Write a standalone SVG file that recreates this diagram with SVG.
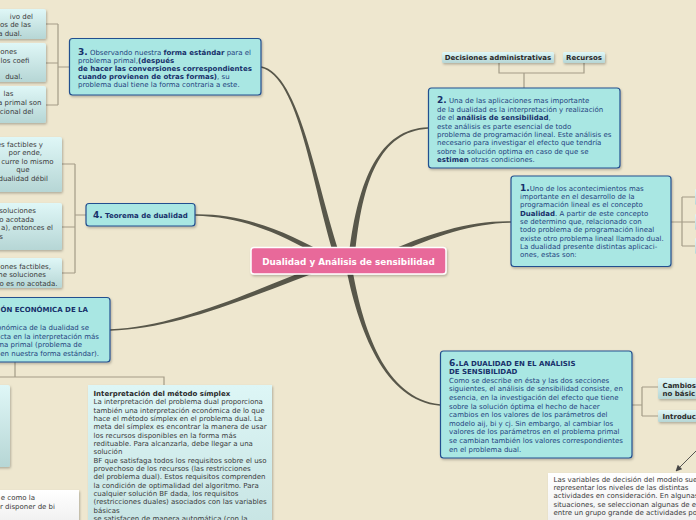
<svg xmlns="http://www.w3.org/2000/svg" width="696" height="520" viewBox="0 0 696 520">
<defs>
<linearGradient id="gc" x1="0" y1="0" x2="0" y2="1"><stop offset="0" stop-color="#DFF7F7"/><stop offset="1" stop-color="#B6D6D5"/></linearGradient>
<linearGradient id="gw" x1="0" y1="0" x2="0" y2="1"><stop offset="0" stop-color="#FFFFFF"/><stop offset="1" stop-color="#EDEDED"/></linearGradient>
<linearGradient id="gt" x1="0" y1="0" x2="0" y2="1"><stop offset="0" stop-color="#DDF6F6"/><stop offset="1" stop-color="#C6E3E2"/></linearGradient>
<filter id="sh" x="-10%" y="-10%" width="130%" height="140%"><feDropShadow dx="1" dy="1.5" stdDeviation="1" flood-color="#000" flood-opacity="0.25"/></filter>
<marker id="ah" viewBox="0 0 10 10" refX="9" refY="5" markerWidth="7" markerHeight="7" orient="auto"><path d="M0,0 L10,5 L0,10 z" fill="#444"/></marker>
</defs>
<style>
text{font-family:"DejaVu Sans",Verdana,sans-serif;font-size:7px}
.n{fill:#A9E7E3;stroke:#24508F;stroke-width:1.2}
.c{fill:url(#gc)}
.w{fill:url(#gw)}
.t{fill:#24427E}
.b{font-weight:bold;fill:#17306A}
.num{font-weight:bold;font-size:9px;fill:#17306A}
.g{fill:#3A3A3A}
.gb{fill:#2A2A2A;font-weight:bold}
.br{fill:none;stroke:#A39C87;stroke-width:1.2}
.con{fill:#58574A}
</style>
<rect width="696" height="520" fill="#EEE7CF"/>

<g id="connectors">
<path class="con" d="M340.8,257 C317.1,189.3 300.3,73.5 261.2,66.3 L260.9,67.7 C299.7,76.5 312.9,190.7 335.2,259 Z"/>
<path class="con" d="M355,255.3 C362.2,180.2 380.1,131.5 428,128.7 L428,127.3 C379.9,128.5 357.8,179.8 349,254.7 Z"/>
<path class="con" d="M381.3,260.7 C430.9,237 470,223.5 511,222.75 L511,221.25 C470,220.5 429.1,233 378.7,255.3 Z"/>
<path class="con" d="M331.6,257.5 C291.2,233.1 245,213.5 195,214.25 L195,215.75 C245,216.5 288.8,236.9 328.4,262.5 Z"/>
<path class="con" d="M329,261.2 C259.2,287.9 180,326.5 110,329.25 L110,330.75 C180,329.5 260.8,292.1 331,266.8 Z"/>
<path class="con" d="M345,262.5 C357.8,330.4 384.9,401.5 439.9,405.7 L440.1,404.3 C385.1,398.5 362.2,329.6 351,261.5 Z"/>
<path class="br" d="M69,67 H58 M58,24 V105 M46,24 H58 M46,63 H58 M46,105 H58"/>
<path class="br" d="M86,215 H75 M75,164 V273 M62,164 H75 M62,227 H75 M62,273 H75"/>
<path class="br" d="M499,63 V73 H584 V63 M524,73 V88"/>
<path class="br" d="M671,222 H682 M682,197 V246 M682,197 H696 M682,222 H696 M682,246 H696"/>
<path class="br" d="M632,405 H642 M642,387 V416 M642,387 H658 M642,416 H658"/>
<path class="br" d="M15,362 V377 M0,377 H164 V385"/>
<path d="M700,447 L676,471" stroke="#444" stroke-width="0.9" fill="none" marker-end="url(#ah)"/>
</g>

<g id="center">
<rect x="251" y="247.5" width="195" height="26.5" rx="3" fill="#E8699A" stroke="#FFFFFF" stroke-width="1.5" filter="url(#sh)"/>
<text x="348.5" y="264.5" text-anchor="middle" style="font-size:8.8px;font-weight:bold;fill:#FFFFFF">Dualidad y Análisis de sensibilidad</text>
</g>

<g id="node3">
<rect class="n" x="69.5" y="38.5" width="191.5" height="56.5" rx="3" filter="url(#sh)"/>
<text x="78" y="54.5" class="t"><tspan class="num">3.</tspan> Observando nuestra <tspan class="b">forma estándar</tspan> para el</text>
<text x="78" y="62.8" class="t">problema primal,<tspan class="b">(después</tspan></text>
<text x="78" y="71.1" class="b">de hacer las conversiones correspondientes</text>
<text x="78" y="79.4" class="t"><tspan class="b">cuando provienen de otras formas)</tspan>, su</text>
<text x="78" y="87.4" class="t">problema dual tiene la forma contraria a este.</text>
</g>

<g id="node3a">
<rect class="c" x="-20" y="9" width="66" height="30" rx="2" filter="url(#sh)"/>
<text x="33" y="18.5" text-anchor="end" class="g">ivo del</text>
<text x="31" y="27.2" text-anchor="end" class="g">os de las</text>
<text x="22" y="35.8" text-anchor="end" class="g">a dual.</text>
</g>
<g id="node3b">
<rect class="c" x="-20" y="43" width="66" height="39" rx="2" filter="url(#sh)"/>
<text x="17" y="53.5" text-anchor="end" class="g">ones</text>
<text x="29.5" y="62.5" text-anchor="end" class="g">los coefi</text>
<text x="22.5" y="78.5" text-anchor="end" class="g">dual.</text>
</g>
<g id="node3c">
<rect class="c" x="-20" y="86" width="66" height="37" rx="2" filter="url(#sh)"/>
<text x="13.5" y="96.2" text-anchor="end" class="g">las</text>
<text x="41.5" y="105.2" text-anchor="end" class="g">a primal son</text>
<text x="33.5" y="113.5" text-anchor="end" class="g">cional del</text>
</g>

<g id="node2d">
<rect class="c" x="442" y="52" width="112" height="11" rx="1.5" filter="url(#sh)"/>
<text x="498" y="60" text-anchor="middle" class="gb">Decisiones administrativas</text>
</g>
<g id="node2r">
<rect class="c" x="563" y="52" width="42" height="11" rx="1.5" filter="url(#sh)"/>
<text x="584" y="60" text-anchor="middle" class="gb">Recursos</text>
</g>

<g id="node2">
<rect class="n" x="428.5" y="88" width="191.5" height="80" rx="3" filter="url(#sh)"/>
<text x="437" y="103.3" class="t"><tspan class="num">2.</tspan> Una de las aplicaciones mas importante</text>
<text x="437" y="111.7" class="t">de la dualidad es la interpretación y realización</text>
<text x="437" y="120.1" class="t">de el <tspan class="b">análisis de sensibilidad</tspan>,</text>
<text x="437" y="128.5" class="t">este análisis es parte esencial de todo</text>
<text x="437" y="136.9" class="t">problema de programación lineal. Este análisis es</text>
<text x="437" y="145.3" class="t">necesario para investigar el efecto que tendría</text>
<text x="437" y="153.7" class="t">sobre la solución optima en caso de que se</text>
<text x="437" y="162.1" class="t"><tspan class="b">estimen</tspan> otras condiciones.</text>
</g>

<g id="node1">
<rect class="n" x="511" y="176" width="160" height="90.5" rx="3" filter="url(#sh)"/>
<text x="520" y="190.8" class="t"><tspan class="num">1.</tspan>Uno de los acontecimientos mas</text>
<text x="520" y="199.1" class="t">importante en el desarrollo de la</text>
<text x="520" y="207.4" class="t">programación lineal es el concepto</text>
<text x="520" y="215.7" class="t"><tspan class="b">Dualidad</tspan>. A partir de este concepto</text>
<text x="520" y="224" class="t">se determino que, relacionado con</text>
<text x="520" y="232.3" class="t">todo problema de programación lineal</text>
<text x="520" y="240.6" class="t">existe otro problema lineal llamado dual.</text>
<text x="520" y="248.9" class="t">La dualidad presente distintas aplicaci-</text>
<text x="520" y="257.2" class="t">ones, estas son:</text>
</g>

<g id="node1a"><rect class="c" x="695" y="189" width="40" height="16" rx="1.5"/></g>
<g id="node1b"><rect class="c" x="695" y="214" width="40" height="16" rx="1.5"/></g>
<g id="node1c"><rect class="c" x="695" y="238" width="40" height="16" rx="1.5"/></g>

<g id="node4">
<rect class="n" x="86" y="203.5" width="109" height="22.5" rx="3" filter="url(#sh)"/>
<text x="93" y="218.3" class="b"><tspan style="font-size:9px">4.</tspan> Teorema de dualidad</text>
</g>

<g id="node4a">
<rect class="c" x="-20" y="137" width="82" height="55" rx="2" filter="url(#sh)"/>
<text x="43" y="146.5" text-anchor="end" class="g">es factibles y</text>
<text x="42" y="155.3" text-anchor="end" class="g">por ende,</text>
<text x="53.5" y="163.8" text-anchor="end" class="g">curre lo mismo</text>
<text x="29.5" y="172" text-anchor="end" class="g">que</text>
<text x="48" y="180.5" text-anchor="end" class="g">dualidad débil</text>
</g>
<g id="node4b">
<rect class="c" x="-20" y="203" width="82" height="47" rx="2" filter="url(#sh)"/>
<text x="36" y="213" text-anchor="end" class="g">soluciones</text>
<text x="34" y="221.5" text-anchor="end" class="g">o acotada</text>
<text x="53" y="230.3" text-anchor="end" class="g">a), entonces el</text>
<text x="3" y="238.8" text-anchor="end" class="g">s</text>
</g>
<g id="node4c">
<rect class="c" x="-20" y="258" width="82" height="30" rx="2" filter="url(#sh)"/>
<text x="51" y="268.5" text-anchor="end" class="g">ones factibles,</text>
<text x="46" y="277.3" text-anchor="end" class="g">ne soluciones</text>
<text x="57.5" y="285.8" text-anchor="end" class="g">o es no acotada.</text>
</g>

<g id="node5">
<rect class="n" x="-30" y="297.5" width="140" height="64.5" rx="3" filter="url(#sh)"/>
<text x="88" y="312.3" text-anchor="end" class="b">ÓN ECONÓMICA DE LA</text>
<text x="89" y="330.3" text-anchor="end" class="t">onómica de la dualidad se</text>
<text x="99" y="338.8" text-anchor="end" class="t">cta en la interpretación más</text>
<text x="82" y="347.2" text-anchor="end" class="t">ma primal (problema de</text>
<text x="99" y="355.6" text-anchor="end" class="t">en nuestra forma estándar).</text>
</g>

<g id="node5a"><rect class="c" x="-50" y="385" width="60" height="82" rx="2" filter="url(#sh)"/></g>

<g id="node5b">
<rect x="88" y="385" width="184" height="150" fill="url(#gt)" filter="url(#sh)"/>
<text x="93.5" y="395.8" class="gb">Interpretación del método símplex</text>
<text x="93.5" y="404.1" class="g">La interpretación del problema dual proporciona</text>
<text x="93.5" y="412.5" class="g">también una interpretación económica de lo que</text>
<text x="93.5" y="420.8" class="g">hace el método símplex en el problema dual. La</text>
<text x="93.5" y="429.1" class="g">meta del símplex es encontrar la manera de usar</text>
<text x="93.5" y="437.5" class="g">los recursos disponibles en la forma más</text>
<text x="93.5" y="445.8" class="g">redituable. Para alcanzarla, debe llegar a una</text>
<text x="93.5" y="454.1" class="g">solución</text>
<text x="93.5" y="462.5" class="g">BF que satisfaga todos los requisitos sobre el uso</text>
<text x="93.5" y="470.8" class="g">provechoso de los recursos (las restricciones</text>
<text x="93.5" y="479.1" class="g">del problema dual). Estos requisitos comprenden</text>
<text x="93.5" y="487.5" class="g">la condición de optimalidad del algoritmo. Para</text>
<text x="93.5" y="495.8" class="g">cualquier solución BF dada, los requisitos</text>
<text x="93.5" y="504.1" class="g">(restricciones duales) asociados con las variables</text>
<text x="93.5" y="512.5" class="g">básicas</text>
<text x="93.5" y="520.8" class="g">se satisfacen de manera automática (con la</text>
</g>

<g id="node5c">
<rect class="w" x="-30" y="490" width="109" height="40" filter="url(#sh)"/>
<text x="35" y="500" text-anchor="end" class="g">e como la</text>
<text x="55" y="508.5" text-anchor="end" class="g">or disponer de bi</text>
</g>

<g id="node6">
<rect class="n" x="440.5" y="351" width="191.5" height="107" rx="3" filter="url(#sh)"/>
<text x="449" y="365.6" class="b"><tspan style="font-size:9px">6.</tspan>LA DUALIDAD EN EL ANÁLISIS</text>
<text x="449" y="374.2" class="b">DE SENSIBILIDAD</text>
<text x="449" y="382.8" class="t">Como se describe en ésta y las dos secciones</text>
<text x="449" y="391.4" class="t">siguientes, el análisis de sensibilidad consiste, en</text>
<text x="449" y="400" class="t">esencia, en la investigación del efecto que tiene</text>
<text x="449" y="408.6" class="t">sobre la solución óptima el hecho de hacer</text>
<text x="449" y="417.2" class="t">cambios en los valores de los parámetros del</text>
<text x="449" y="425.8" class="t">modelo aij, bi y cj. Sin embargo, al cambiar los</text>
<text x="449" y="434.4" class="t">valores de los parámetros en el problema primal</text>
<text x="449" y="443" class="t">se cambian también los valores correspondientes</text>
<text x="449" y="451.6" class="t">en el problema dual.</text>
</g>

<g id="node6a">
<rect class="c" x="658" y="378" width="60" height="21" rx="1.5" filter="url(#sh)"/>
<text x="662.5" y="387.5" class="gb">Cambios</text>
<text x="662.5" y="396.3" class="gb">no básic</text>
</g>
<g id="node6b">
<rect class="c" x="658" y="410" width="60" height="12" rx="1.5" filter="url(#sh)"/>
<text x="662.5" y="418.5" class="gb">Introduc</text>
</g>

<g id="node6c">
<rect class="w" x="548" y="473" width="170" height="60" filter="url(#sh)"/>
<text x="553.5" y="481.5" class="g">Las variables de decisión del modelo sue</text>
<text x="553.5" y="489.8" class="g">representar los niveles de las distintas</text>
<text x="553.5" y="498.2" class="g">actividades en consideración. En algunas</text>
<text x="553.5" y="506.5" class="g">situaciones, se seleccionan algunas de e</text>
<text x="553.5" y="514.5" class="g">entre un grupo grande de actividades po</text>
</g>
</svg>
